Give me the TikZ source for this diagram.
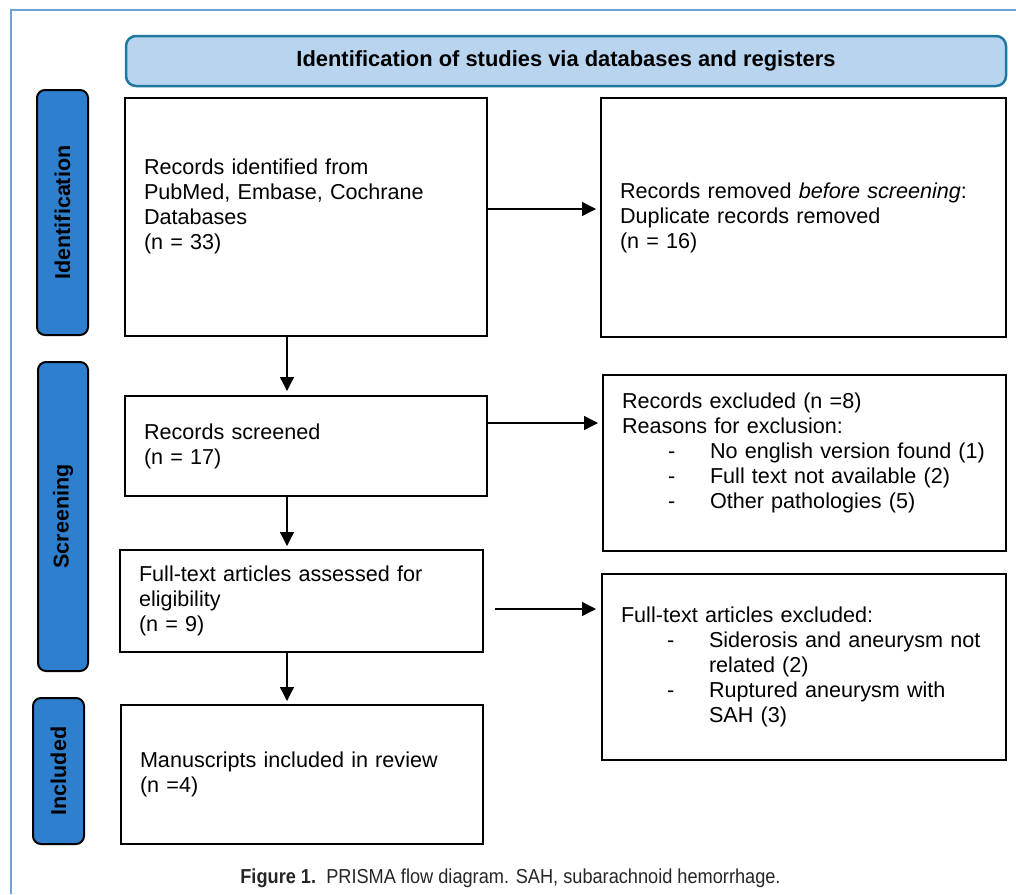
\documentclass[tikz,border=0pt]{standalone}
\usepackage{fontspec}
\setmainfont{Liberation Sans}
\newfontfamily\capfont[FakeStretch=0.9]{Liberation Sans}
\usetikzlibrary{arrows.meta,calc}

\definecolor{headfill}{HTML}{B8D4EF}
\definecolor{headline}{HTML}{1F78A0}
\definecolor{phasefill}{HTML}{2F7FCF}
\definecolor{frameblue}{HTML}{6FA0D8}

\tikzset{
  box/.style={draw=black, line width=2pt, inner xsep=19pt, inner ysep=0pt,
              align=left, font=\fontsize{21.6}{25}\selectfont},
  phase/.style={draw=black, line width=2pt, fill=phasefill, rounded corners=8pt,
                rotate=90, inner sep=0pt, font=\fontsize{21.5}{24}\selectfont\bfseries},
  arr/.style={line width=1.3pt, -{Triangle[length=14pt,width=14pt]}},
}
% dash items inside the exclusion boxes
\newcommand{\dashitem}{\makebox[88pt][l]{\hspace{46pt}-}}
\newcommand{\dashcont}{\hspace*{88pt}}

\begin{document}
\begin{tikzpicture}[x=1pt,y=-1pt]
    \useasboundingbox (0,0) rectangle (1016,894);

    % Frame
    \draw[frameblue, line width=2pt] (11,894) -- (11,10) -- (1016,10);

    % Header
    \node[draw=headline, line width=2.5pt, fill=headfill, rounded corners=10pt,
          minimum width=880pt, minimum height=50pt, inner sep=0pt,
          font=\fontsize{21.9}{24}\selectfont\bfseries] (head) at (566,61)
          {Identification of studies via databases and registers};

    % Phases
    \node[phase, minimum width=245pt, minimum height=51pt] (pident) at (62.5,212.5) {Identification};
    \node[phase, minimum width=309pt, minimum height=50pt] (pscreen) at (63,516.5) {Screening};
    \node[phase, minimum width=146pt, minimum height=51pt] (pincl) at (58.5,771) {Included};

    % Left column
    \node[box, minimum width=362pt, minimum height=238pt, text width=324pt] (ident) at (306,217)
          {Records identified from\\PubMed, Embase, Cochrane\\Databases\\(n = 33)\\~};
    \node[box, minimum width=362pt, minimum height=100pt, text width=324pt] (screened) at (306,446)
          {Records screened\\(n = 17)};
    \node[box, minimum width=363pt, minimum height=102pt, text width=325pt] (assess) at (301.5,601)
          {Full-text articles assessed for\\eligibility\\(n = 9)};
    \node[box, minimum width=362pt, minimum height=139pt, text width=324pt] (incl) at (302,774.5)
          {Manuscripts included in review\\(n =4)};

    % Right column
    \node[box, minimum width=405pt, minimum height=239pt, text width=367pt] (removed) at (803.5,217.5)
          {Records removed \emph{before screening}:\\Duplicate records removed\\(n = 16)};
    \node[box, minimum width=403pt, minimum height=176pt, text width=365pt] (excl) at (804.5,463)
          {Records excluded (n =8)\\Reasons for exclusion:\\
           \dashitem No english version found (1)\\
           \dashitem Full text not available (2)\\
           \dashitem Other pathologies (5)\\~};
    \node[box, minimum width=404pt, minimum height=186pt, text width=366pt] (ftexcl) at (804,667)
          {Full-text articles excluded:\\
           \dashitem Siderosis and aneurysm not\\
           \dashcont related (2)\\
           \dashitem Ruptured aneurysm with\\
           \dashcont SAH (3)};

    % Arrows
    \draw[arr, shorten >=4pt] ([yshift=8pt]ident.east) -- ([yshift=8pt]ident.east -| removed.west);
    \draw[arr, shorten >=4pt] ([yshift=23pt]screened.east) -- ([yshift=23pt]screened.east -| excl.west);
    \draw[arr, shorten >=5pt] ($(assess.east)+(11,8)$) coordinate (ftstart) -- (ftstart -| ftexcl.west);
    \draw[arr, shorten >=4pt] ([xshift=-19pt]ident.south) -- ([xshift=-19pt]ident.south |- screened.north);
    \draw[arr, shorten >=3pt] ([xshift=-19pt]screened.south) -- ([xshift=-19pt]screened.south |- assess.north);
    \draw[arr, shorten >=3pt] ([xshift=-14.5pt]assess.south) -- ([xshift=-14.5pt]assess.south |- incl.north);

    % Caption
    \node[font=\fontsize{20.2}{23}\selectfont\capfont, text=black!85] (caption) at (510.5,878)
          {\textbf{Figure 1.}\ \ PRISMA flow diagram. SAH, subarachnoid hemorrhage.};
\end{tikzpicture}
\end{document}
